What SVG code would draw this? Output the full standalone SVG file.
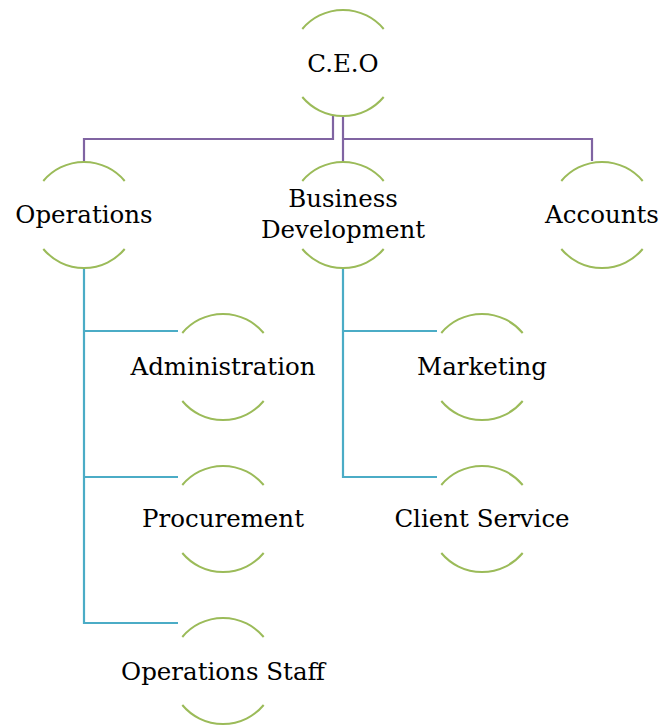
<svg xmlns="http://www.w3.org/2000/svg" xmlns:xlink="http://www.w3.org/1999/xlink" width="664" height="726" viewBox="0 0 664 726">
  <style>
    .ring { fill: none; stroke: #9BBB59; stroke-width: 2; }
    .lvl1 { fill: none; stroke: #8064A2; stroke-width: 2.2; }
    .lvl2 { fill: none; stroke: #4BACC6; stroke-width: 2.2; }
    text { font-family: "DejaVu Serif", "Liberation Serif", serif; font-size: 24.5px; fill: #000; text-anchor: middle; }
  </style>
  <defs>
    <!-- circle outline with the side portions left open for the label -->
    <g id="ring" class="ring">
      <path d="M-40.7,-34 A53,53 0 0 1 40.7,-34"/>
      <path d="M-40.7,34 A53,53 0 0 0 40.7,34"/>
    </g>
  </defs>

  <rect width="664" height="726" fill="#ffffff"/>

  <g id="connectors">
    <path class="lvl1" d="M333,116 V139 H84 V162"/>
    <path class="lvl1" d="M343,116 V162"/>
    <path class="lvl1" d="M343,139 H592 V161"/>
    <path class="lvl2" d="M84,268 V623 H178"/>
    <path class="lvl2" d="M84,331 H178"/>
    <path class="lvl2" d="M84,477 H178"/>
    <path class="lvl2" d="M343,269 V477 H437"/>
    <path class="lvl2" d="M343,331 H437"/>
  </g>

  <g id="ceo">
    <use xlink:href="#ring" x="343" y="63"/>
    <text x="343" y="72">C.E.O</text>
  </g>
  <g id="operations">
    <use xlink:href="#ring" x="84" y="215"/>
    <text x="84" y="223">Operations</text>
  </g>
  <g id="business-development">
    <use xlink:href="#ring" x="343" y="215"/>
    <text x="343" y="207">Business</text>
    <text x="343" y="238">Development</text>
  </g>
  <g id="accounts">
    <use xlink:href="#ring" x="602" y="215"/>
    <text x="602" y="223">Accounts</text>
  </g>
  <g id="administration">
    <use xlink:href="#ring" x="223" y="367"/>
    <text x="223" y="375">Administration</text>
  </g>
  <g id="marketing">
    <use xlink:href="#ring" x="482" y="367"/>
    <text x="482" y="375">Marketing</text>
  </g>
  <g id="procurement">
    <use xlink:href="#ring" x="223" y="519"/>
    <text x="223" y="527">Procurement</text>
  </g>
  <g id="client-service">
    <use xlink:href="#ring" x="482" y="519"/>
    <text x="482" y="527">Client Service</text>
  </g>
  <g id="operations-staff">
    <use xlink:href="#ring" x="223" y="671"/>
    <text x="223" y="680">Operations Staff</text>
  </g>
</svg>
